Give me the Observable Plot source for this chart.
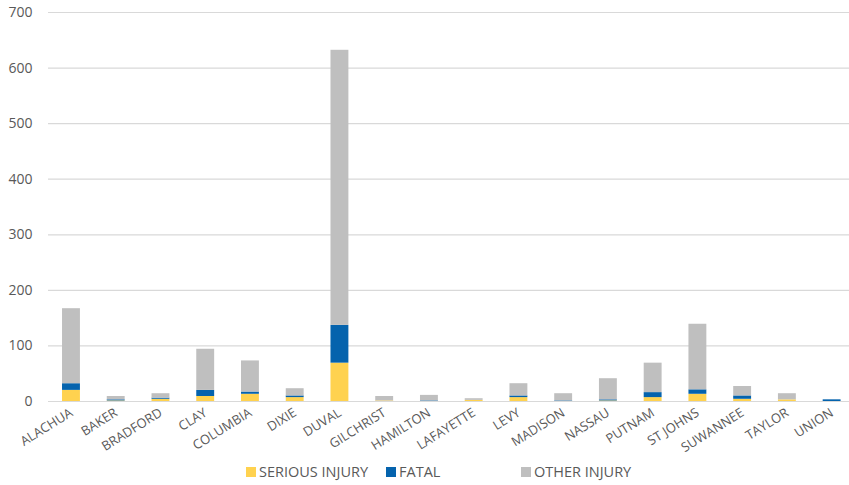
<!DOCTYPE html>
<html>
<head>
<meta charset="utf-8">
<script src="https://cdn.jsdelivr.net/npm/d3@7"></script>
<script src="https://cdn.jsdelivr.net/npm/@observablehq/plot@0.6"></script>
<style>
  body { margin: 0; background: #fff; overflow: hidden; }
  #chart { position: relative; width: 849px; }
  .legend { position: relative; height: 25px; font-family: "Open Sans", sans-serif; font-size: 14.5px; color: #595959; }
  .legend .item { position: absolute; top: 2px; display: flex; align-items: center; }
  .legend .sw { width: 10px; height: 10px; margin-right: 3px; }
</style>
</head>
<body>
<div id="chart"></div>
<script>
const counties = ["ALACHUA","BAKER","BRADFORD","CLAY","COLUMBIA","DIXIE","DUVAL","GILCHRIST","HAMILTON","LAFAYETTE","LEVY","MADISON","NASSAU","PUTNAM","ST JOHNS","SUWANNEE","TAYLOR","UNION"];
const serious = [20, 1, 4, 9, 13, 7, 69, 1, 0, 2, 7, 0, 1, 7, 13, 4, 3, 0];
const fatal   = [12, 2, 2, 11, 4, 3, 68, 0, 1, 0, 3, 1, 2, 9, 8, 6, 0, 3];
const other   = [135, 6, 8, 74, 56, 13, 495, 8, 10, 3, 22, 13, 38, 53, 118, 17, 11, 0];
const seriesNames = ["SERIOUS INJURY", "FATAL", "OTHER INJURY"];
const seriesColors = ["#FFD24F", "#0563AD", "#BFBFBF"];
const yTicks = [0, 100, 200, 300, 400, 500, 600, 700];

const rows = [];
counties.forEach((c, i) => {
  rows.push({county: c, type: seriesNames[0], value: serious[i]});
  rows.push({county: c, type: seriesNames[1], value: fatal[i]});
  rows.push({county: c, type: seriesNames[2], value: other[i]});
});

const plot = Plot.plot({
  width: 849,
  height: 460,
  marginTop: 12,
  marginBottom: 59,
  marginLeft: 48,
  marginRight: 0,
  style: {fontFamily: "'Open Sans', sans-serif", fontSize: "13px", color: "#595959", background: "#fff", overflow: "visible"},
  x: {domain: counties, range: [48.6, 854], paddingInner: 0.6, paddingOuter: 0.3, round: false, label: null},
  y: {domain: [0, 700], label: null},
  color: {domain: seriesNames, range: seriesColors},
  marks: [
    Plot.ruleY(yTicks, {stroke: "#D9D9D9", strokeWidth: 1.2}),
    Plot.barY(rows, {x: "county", y: "value", fill: "type", order: seriesNames}),
    Plot.axisY({ticks: yTicks, tickSize: 0, tickPadding: 16, label: null, fill: "#595959", fontSize: 14}),
    Plot.axisX({tickSize: 0, tickRotate: -32, tickPadding: 4, dy: 6, label: null, fill: "#595959", fontSize: 13})
  ]
});
document.getElementById("chart").appendChild(plot);

const legend = document.createElement("div");
legend.className = "legend";
const starts = [246, 386, 521];
seriesNames.forEach((n, i) => {
  const it = document.createElement("div");
  it.className = "item";
  it.style.left = starts[i] + "px";
  const sw = document.createElement("span");
  sw.className = "sw";
  sw.style.background = seriesColors[i];
  const t = document.createElement("span");
  t.textContent = n;
  it.appendChild(sw); it.appendChild(t);
  legend.appendChild(it);
});
document.getElementById("chart").appendChild(legend);
</script>
</body>
</html>
